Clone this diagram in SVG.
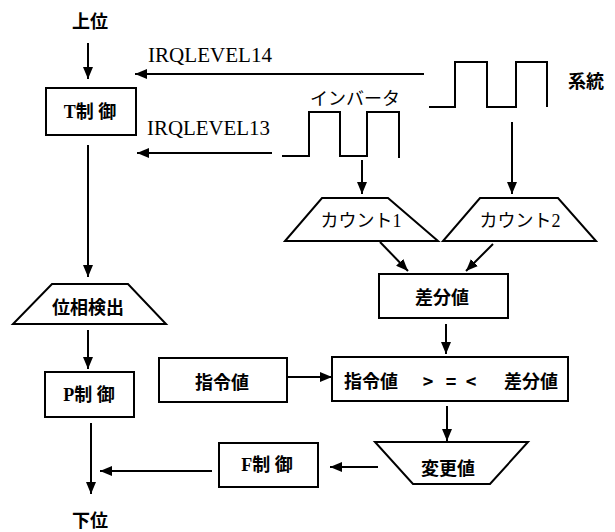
<svg xmlns="http://www.w3.org/2000/svg" width="615" height="532" viewBox="0 0 615 532">
<style>
.shape{fill:#fff;stroke:#000;stroke-width:2}
.ln{fill:none;stroke:#000;stroke-width:2}
.ar{fill:none;stroke:#000;stroke-width:2;marker-end:url(#ah)}
.jp{font-family:"Noto Sans CJK JP","Noto Sans",sans-serif;font-size:18px;font-weight:bold;fill:#000;text-anchor:middle;dominant-baseline:central}
.jpb{font-family:"Liberation Serif","Noto Sans CJK JP",serif;font-size:18px;font-weight:bold;fill:#000;text-anchor:middle;dominant-baseline:central}
.mix{font-family:"Liberation Serif","Noto Sans CJK JP",serif;font-size:18px;fill:#000;text-anchor:middle;dominant-baseline:central}
.irq{font-family:"Liberation Serif",serif;font-size:20px;fill:#000}
</style>
<defs>
<marker id="ah" markerUnits="userSpaceOnUse" markerWidth="12" markerHeight="10" refX="12" refY="5" orient="auto">
<path d="M0,0 L12,5 L0,10 z" fill="#000"/>
</marker>
</defs>
<g id="connectors">
<line class="ar" x1="88" y1="43" x2="88" y2="79"/>
<line class="ar" x1="424" y1="74" x2="135" y2="74"/>
<line class="ar" x1="272" y1="153" x2="137" y2="153"/>
<line class="ar" x1="88" y1="145" x2="88" y2="277"/>
<line class="ar" x1="88" y1="330" x2="88" y2="369"/>
<line class="ar" x1="91" y1="423" x2="91" y2="494"/>
<line class="ar" x1="212" y1="471" x2="100" y2="471"/>
<line class="ar" x1="362" y1="160" x2="362" y2="194"/>
<line class="ar" x1="512" y1="122" x2="512" y2="194"/>
<line class="ar" x1="380" y1="242" x2="408" y2="271"/>
<line class="ar" x1="493" y1="244" x2="466" y2="271"/>
<line class="ar" x1="446" y1="324" x2="446" y2="354"/>
<line class="ar" x1="287" y1="377" x2="332" y2="377"/>
<line class="ar" x1="447" y1="406" x2="447" y2="441"/>
<line class="ar" x1="378" y1="467" x2="330" y2="467"/>
</g>
<g id="wave-system">
<polyline class="ln" points="429,107 455,107 455,62 487,62 487,107 516,107 516,62 547,62 547,107"/>
<text class="jp" x="586" y="80">系統</text>
</g>
<g id="wave-inverter">
<polyline class="ln" points="282,156 309,156 309,112 340,112 340,156 367,156 367,112 399,112 399,158"/>
<text class="jp" x="355" y="97" style="font-weight:normal">インバータ</text>
</g>
<g id="labels">
<text class="jp" x="90" y="20">上位</text>
<text class="jp" x="90" y="519">下位</text>
<text class="irq" x="148" y="62" textLength="124" lengthAdjust="spacingAndGlyphs">IRQLEVEL14</text>
<text class="irq" x="147" y="135" textLength="123" lengthAdjust="spacingAndGlyphs">IRQLEVEL13</text>
</g>
<g id="t-control">
<rect class="shape" x="46" y="88" width="90" height="47"/>
<text class="jpb" x="90" y="112">T制 御</text>
</g>
<g id="phase-detect">
<polygon class="shape" points="52,284 128,284 166,324 13,324"/>
<text class="jp" x="88" y="306">位相検出</text>
</g>
<g id="p-control">
<rect class="shape" x="45" y="372" width="89" height="45"/>
<text class="jpb" x="89" y="395">P制 御</text>
</g>
<g id="count1">
<polygon class="shape" points="322,198 388,198 438,241 285,241"/>
<text class="mix" x="361" y="221">カウント1</text>
</g>
<g id="count2">
<polygon class="shape" points="480,198 558,198 596,241 443,241"/>
<text class="mix" x="520" y="221">カウント2</text>
</g>
<g id="diff">
<rect class="shape" x="379" y="274" width="129" height="44"/>
<text class="jp" x="442" y="296">差分値</text>
</g>
<g id="command">
<rect class="shape" x="159" y="358" width="128" height="44"/>
<text class="jp" x="222" y="381">指令値</text>
</g>
<g id="compare">
<rect class="shape" x="332" y="357" width="236" height="44"/>
<text class="jp" x="371" y="380">指令値</text>
<text class="jp" x="428" y="380">&gt;</text>
<text class="jp" x="451" y="380">=</text>
<text class="jp" x="471" y="380">&lt;</text>
<text class="jp" x="531" y="380">差分値</text>
</g>
<g id="change">
<polygon class="shape" points="375,442 528,442 490,484 413,484"/>
<text class="jp" x="448" y="467">変更値</text>
</g>
<g id="f-control">
<rect class="shape" x="219" y="443" width="99" height="44"/>
<text class="jpb" x="267" y="465">F制 御</text>
</g>
</svg>
